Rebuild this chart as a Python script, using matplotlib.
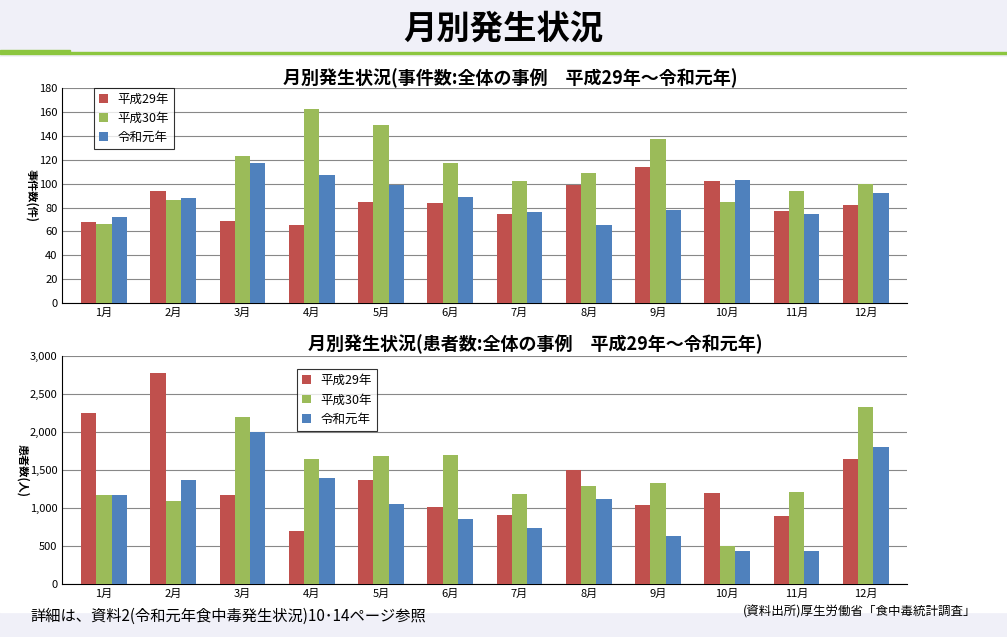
import numpy as np
import matplotlib.pyplot as plt
from matplotlib.patches import Rectangle

plt.rcParams['font.family'] = 'Noto Sans CJK JP'

months = ['1月', '2月', '3月', '4月', '5月', '6月', '7月', '8月', '9月', '10月', '11月', '12月']
series_names = ['平成29年', '平成30年', '令和元年']

# events per month
events_h29 = [68, 94, 69, 65, 85, 84, 75, 99, 114, 102, 77, 82]
events_h30 = [66, 86, 123, 162, 149, 117, 102, 109, 137, 85, 94, 100]
events_r1 = [72, 88, 117, 107, 99, 89, 76, 65, 78, 103, 75, 92]

# patients per month
patients_h29 = [2250, 2780, 1170, 700, 1370, 1010, 910, 1500, 1040, 1200, 900, 1650]
patients_h30 = [1170, 1100, 2200, 1650, 1680, 1700, 1180, 1290, 1330, 500, 1210, 2330]
patients_r1 = [1170, 1370, 2000, 1400, 1060, 860, 740, 1120, 630, 440, 440, 1800]

colors = ['#c0504d', '#9bbb59', '#4f81bd']

fig = plt.figure(figsize=(10.07, 6.37), dpi=100)
fig.patch.set_facecolor('#f0f0f8')

fig.text(0.5, 0.955, '月別発生状況', ha='center', va='center', fontsize=24, fontweight='bold')
fig.add_artist(Rectangle((0, 0.915), 0.07, 0.007, color='#8cc63f', transform=fig.transFigure))
fig.add_artist(Rectangle((0.07, 0.916), 0.93, 0.003, color='#8cc63f', transform=fig.transFigure))
fig.add_artist(Rectangle((0, 0.04), 1, 0.87, color='white', transform=fig.transFigure, zorder=0))

x = np.arange(len(months))
w = 0.22


def draw(ax, data, ymax, step, ylabel, title, legend_loc, fmt):
    for i, (vals, name) in enumerate(zip(data, series_names)):
        ax.bar(x + (i - 1) * w, vals, w, color=colors[i], label=name, zorder=3)
    ax.set_xlim(-0.6, 11.6)
    ax.set_ylim(0, ymax)
    ax.set_yticks(np.arange(0, ymax + 1, step))
    ax.yaxis.set_major_formatter(fmt)
    ax.grid(axis='y', color='#888888', linewidth=0.8, zorder=0)
    ax.set_xticks(x)
    ax.set_xticklabels(months)
    ax.tick_params(labelsize=8, length=0)
    for s in ['top', 'right']:
        ax.spines[s].set_visible(False)
    ax.set_ylabel(ylabel, fontsize=8, fontweight='bold', rotation=270, labelpad=10)
    ax.set_title(title, fontsize=13, fontweight='bold', pad=4)
    leg = ax.legend(loc='upper left', bbox_to_anchor=legend_loc, fontsize=9,
                    frameon=True, fancybox=False, edgecolor='black', handlelength=0.7)
    leg.get_frame().set_linewidth(0.8)


ax1 = fig.add_axes([0.062, 0.524, 0.839, 0.338])
draw(ax1, [events_h29, events_h30, events_r1], 180, 20, '事件数(件)',
     '月別発生状況(事件数:全体の事例　平成29年～令和元年)', (0.03, 1.03),
     plt.FuncFormatter(lambda v, p: f'{v:.0f}'))
ax1.set_title('月別発生状況(事件数:全体の事例　平成29年～令和元年)', fontsize=13,
              fontweight='bold', pad=-4, x=0.53)

ax2 = fig.add_axes([0.062, 0.083, 0.839, 0.358])
draw(ax2, [patients_h29, patients_h30, patients_r1], 3000, 500, '患者数(人)',
     '月別発生状況(患者数:全体の事例　平成29年～令和元年)', (0.27, 0.97),
     plt.FuncFormatter(lambda v, p: f'{v:,.0f}'))
ax2.set_title('月別発生状況(患者数:全体の事例　平成29年～令和元年)', fontsize=13,
              fontweight='bold', pad=4, x=0.56)

fig.text(0.03, 0.033, '詳細は、資料2(令和元年食中毒発生状況)10･14ページ参照', fontsize=11, va='center')
fig.text(0.97, 0.04, '(資料出所)厚生労働省「食中毒統計調査」', fontsize=9, ha='right', va='center')

fig.savefig('out.png', dpi=100, facecolor=fig.get_facecolor())
